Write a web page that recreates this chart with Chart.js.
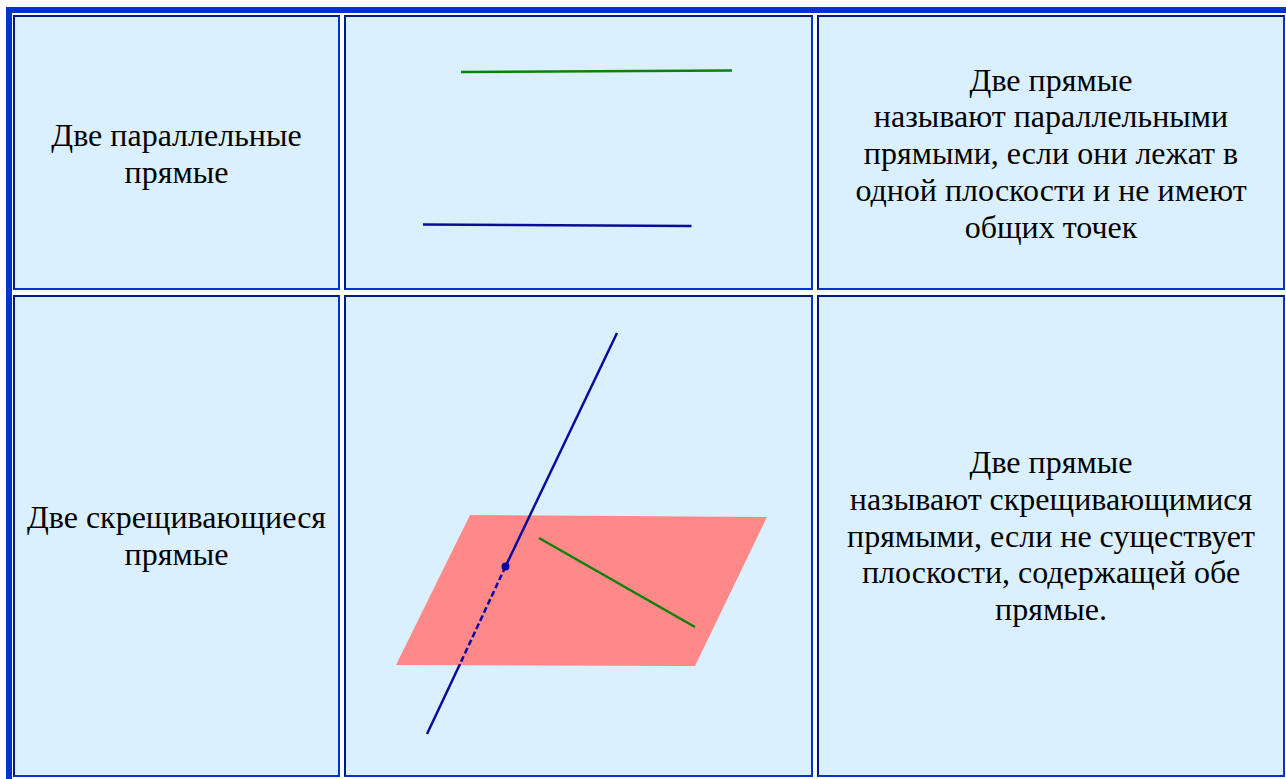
<!DOCTYPE html>
<html lang="ru">
<head>
<meta charset="utf-8">
<title>Две прямые</title>
<script src="https://cdn.jsdelivr.net/npm/chart.js@4"></script>
<style>
    html, body { margin: 0; height: 100%; background: #fff; overflow: hidden; }
    #tabela {
        position: absolute; left: 6px; top: 7px; width: 1280px; height: 772px;
        box-sizing: border-box;
        border-top: 6px solid #0033cc; border-left: 6px solid #0033cc;
        padding: 2px 0 0 1px;
        display: grid;
        grid-template-columns: 327px 469px 468px;
        grid-template-rows: 275px 482px;
        column-gap: 4px; row-gap: 5px;
    }
    .cell {
        position: relative; box-sizing: border-box;
        border: 2px solid #0033cc; border-top-color: #001a80; border-left-color: #001a80;
        background: #daf0ff;
        display: flex; align-items: center; justify-content: center; text-align: center;
        font: 32px/36.8px "Liberation Serif", serif; color: #000;
    }
    .cell.row1 { padding-top: 2px; }
    .cell canvas { position: absolute; left: 0; top: 0; filter: blur(0.35px); }
</style>
</head>
<body>
<div id="tabela">
    <div class="cell row1">Две параллельные<br>прямые</div>
    <div class="cell"><canvas id="parallelChart" width="465" height="271"></canvas></div>
    <div class="cell row1">Две прямые<br>называют параллельными<br>прямыми, если они лежат в<br>одной плоскости и не имеют<br>общих точек</div>
    <div class="cell">Две скрещивающиеся<br>прямые</div>
    <div class="cell"><canvas id="skewChart" width="465" height="478"></canvas></div>
    <div class="cell">Две прямые<br>называют скрещивающимися<br>прямыми, если не существует<br>плоскости, содержащей обе<br>прямые.</div>
</div>

<script>
// Valores
const parallelGreen = [{ x: 461, y: 72 }, { x: 732, y: 70.6 }];
const parallelBlue = [{ x: 423, y: 224.4 }, { x: 691.5, y: 226 }];

const plane = [{ x: 470, y: 515 }, { x: 767, y: 517 }, { x: 695, y: 666 }, { x: 396, y: 665 }, { x: 470, y: 515 }];
const skewGreen = [{ x: 539, y: 538 }, { x: 695, y: 627 }];
const skewBlueTop = [{ x: 617, y: 333 }, { x: 505.5, y: 566.5 }];
const skewBlueHidden = [{ x: 505.5, y: 566.5 }, { x: 460, y: 664 }];
const skewBlueBottom = [{ x: 460, y: 664 }, { x: 427, y: 734 }];
const skewPoint = [{ x: 505.5, y: 566.5 }];

const GREEN = '#0a820a';
const BLUE = '#0a0a9c';

function segment(data, color, dash) {
    return { data, showLine: true, borderColor: color, borderWidth: 2.5, borderDash: dash || [], pointRadius: 0, fill: false };
}

function drawFigure(id, datasets, xRange, yRange) {
    new Chart(document.getElementById(id), {
        type: 'scatter',
        data: { datasets },
        options: {
            responsive: false, animation: false,
            layout: { padding: 0, autoPadding: false },
            plugins: { legend: { display: false }, tooltip: { enabled: false } },
            scales: {
                x: { type: 'linear', display: false, min: xRange[0], max: xRange[1] },
                y: { type: 'linear', display: false, min: yRange[0], max: yRange[1], reverse: true }
            }
        }
    });
}

// Retas paralelas
drawFigure('parallelChart', [
    segment(parallelGreen, GREEN),
    segment(parallelBlue, BLUE)
], [346, 811], [17, 288]);

// Retas reversas com o plano
drawFigure('skewChart', [
    { ...segment(skewPoint, BLUE), showLine: false, pointRadius: 4, pointBackgroundColor: '#0000a0', pointBorderWidth: 0, order: 0 },
    { ...segment(skewGreen, GREEN), order: 1 },
    { ...segment(skewBlueTop, BLUE), order: 1 },
    { ...segment(skewBlueHidden, BLUE, [6, 3]), order: 1 },
    { ...segment(skewBlueBottom, BLUE), order: 1 },
    { data: plane, showLine: true, borderWidth: 0, borderColor: 'transparent', backgroundColor: '#ff8888', pointRadius: 0, fill: 'shape', order: 2 }
], [346, 811], [297, 775]);
</script>
</body>
</html>
